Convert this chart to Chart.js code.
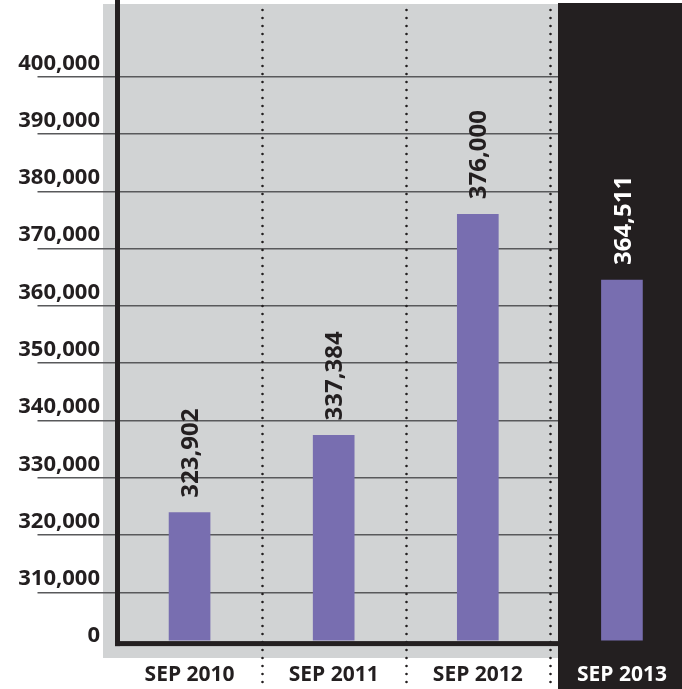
<!DOCTYPE html>
<html>
<head>
<meta charset="utf-8">
<title>Enrollment by September</title>
<script src="https://cdn.jsdelivr.net/npm/chart.js@4/dist/chart.umd.min.js"></script>
<style>
  html, body { margin: 0; padding: 0; background: #fff; overflow: hidden; }
  /* the last column bleeds past the right edge */
  #wrap { width: 682px; height: 689px; overflow: hidden; }
</style>
</head>
<body>
<div id="wrap"><canvas id="countChart" width="694" height="689"></canvas></div>
<script>
// headcount per September
const categories = ["SEP 2010", "SEP 2011", "SEP 2012", "SEP 2013"];
const counts = [323902, 337384, 376000, 364511];

// broken value axis: the bottom tick reads "0"
const yTickValues = [300000, 310000, 320000, 330000, 340000, 350000, 360000, 370000, 380000, 390000, 400000];
const yTickLabels = ["0", "310,000", "320,000", "330,000", "340,000", "350,000", "360,000", "370,000", "380,000", "390,000", "400,000"];

const INK = "#231f20";
const PANEL = "#d1d3d4";
const BAR = "#786eb0";
const GRID = "#58595b";
const FONT = "'Open Sans', 'Liberation Sans', sans-serif";
const AXIS_LIFT = 6;      // x axis sits a little above the 300k baseline
const PANEL_RIGHT = 558;  // where the highlighted year column starts

const panels = {
  id: "panels",
  beforeDraw(chart) {
    const c = chart.ctx;
    c.save();
    c.fillStyle = "#fff";
    c.fillRect(0, 0, chart.width, chart.height);
    c.fillStyle = PANEL;
    c.fillRect(103, 4, PANEL_RIGHT - 103, 654);
    c.restore();
  },
  beforeDatasetsDraw(chart) {
    const c = chart.ctx;
    const x = chart.scales.x;
    c.save();
    // latest year gets the dark column
    c.fillStyle = INK;
    c.fillRect(PANEL_RIGHT, 3, chart.width - PANEL_RIGHT, chart.height - 3);
    // dotted separators between years
    c.strokeStyle = INK;
    c.lineWidth = 2.6;
    c.lineCap = "round";
    c.setLineDash([0, 8]);
    for (let i = 0; i < categories.length - 1; i++) {
      const sx = Math.round((x.getPixelForValue(i) + x.getPixelForValue(i + 1)) / 2) + 0.5;
      c.beginPath();
      c.moveTo(sx, 10);
      c.lineTo(sx, chart.height);
      c.stroke();
    }
    c.restore();
  },
  afterDatasetsDraw(chart) {
    const c = chart.ctx;
    const a = chart.chartArea;
    const axisY = a.bottom - AXIS_LIFT - 2.5;
    c.save();
    c.fillStyle = INK;
    c.fillRect(a.left - 2.5, 0, 5, axisY + 5);
    c.fillRect(a.left - 2.5, axisY, PANEL_RIGHT - a.left + 2.5, 5);

    // value labels, rotated, sitting above each bar
    const meta = chart.getDatasetMeta(0);
    c.font = "bold 24px " + FONT;
    c.textAlign = "left";
    c.textBaseline = "alphabetic";
    meta.data.forEach((bar, i) => {
      c.save();
      c.translate(bar.x, bar.y - 15);
      c.rotate(-Math.PI / 2);
      c.fillStyle = i === counts.length - 1 ? "#fff" : INK;
      c.fillText(counts[i].toLocaleString("en-US"), 0, 8.6);
      c.restore();
    });
    c.restore();
  }
};

const hideBase = ctx => (ctx.tick && ctx.tick.value === yTickValues[0]) ? "rgba(0,0,0,0)" : GRID;

new Chart(document.getElementById("countChart"), {
  type: "bar",
  data: {
    labels: categories,
    datasets: [{
      data: counts,
      backgroundColor: BAR,
      barThickness: 41,
      clip: { left: 0, top: 0, right: 0, bottom: -9 }
    }]
  },
  options: {
    responsive: false,
    animation: false,
    layout: { padding: 0 },
    plugins: {
      legend: { display: false },
      tooltip: { enabled: false }
    },
    scales: {
      x: {
        grid: { display: false },
        border: { display: false },
        ticks: {
          color: ctx => ctx.index === categories.length - 1 ? "#fff" : INK,
          font: { family: FONT, size: 21, weight: "bold" },
          padding: 5,
          maxRotation: 0,
          autoSkip: false,
          z: 1
        },
        afterFit(s) { s.height = 39.4; }
      },
      y: {
        min: 300000,
        max: 413400,
        afterBuildTicks(s) { s.ticks = yTickValues.map(v => ({ value: v })); },
        grid: { color: hideBase, tickColor: hideBase, lineWidth: 1.5, tickLength: 80 },
        border: { display: false },
        ticks: {
          callback: (v, i) => yTickLabels[i],
          color: INK,
          font: { family: FONT, size: 22, weight: "bold" },
          padding: -62.5,
          labelOffset: -13.5
        },
        afterFit(s) { s.width = 117.5; }
      }
    }
  },
  plugins: [panels]
});
</script>
</body>
</html>
